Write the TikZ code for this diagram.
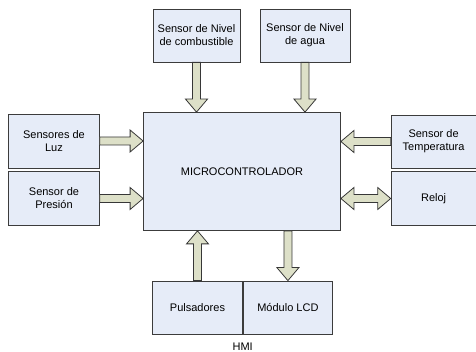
\documentclass[tikz,border=0pt]{standalone}
\usepackage{fontspec}
\setmainfont{Liberation Sans}
\usetikzlibrary{calc}

\definecolor{boxfill}{RGB}{230,236,248}
\definecolor{boxline}{RGB}{60,60,60}
\definecolor{arrowfill}{RGB}{221,224,200}
\definecolor{arrowline}{RGB}{55,55,55}

\tikzset{
  textfont/.style={font=\fontsize{11}{13}\selectfont},
  block/.style={draw=boxline, fill=boxfill, line width=0.8pt, align=center,
    textfont, inner sep=0pt},
  fatarrow/.style={draw=arrowline, fill=arrowfill, line width=0.8pt, line join=miter},
}

% block arrow from #1 to #2 (single head at #2)
\newcommand\blockarrow[2]{%
  \path[fatarrow] let \p1=(#1), \p2=(#2),
    \n1={atan2(\y2-\y1,\x2-\x1)}, \n2={veclen(\x2-\x1,\y2-\y1)} in
    [shift={(\p1)}, rotate=\n1]
    (0pt,-4pt) -- ({(\n2-13)*1pt},-4pt) -- ({(\n2-13)*1pt},-11pt) -- ({\n2*1pt},0pt)
    -- ({(\n2-13)*1pt},11pt) -- ({(\n2-13)*1pt},4pt) -- (0pt,4pt) -- cycle;}

% block arrow with heads at both ends
\newcommand\blockarrowboth[2]{%
  \path[fatarrow] let \p1=(#1), \p2=(#2),
    \n1={atan2(\y2-\y1,\x2-\x1)}, \n2={veclen(\x2-\x1,\y2-\y1)} in
    [shift={(\p1)}, rotate=\n1]
    (0pt,0pt) -- (13pt,-11pt) -- (13pt,-4pt) -- ({(\n2-13)*1pt},-4pt) -- ({(\n2-13)*1pt},-11pt)
    -- ({\n2*1pt},0pt) -- ({(\n2-13)*1pt},11pt) -- ({(\n2-13)*1pt},4pt) -- (13pt,4pt)
    -- (13pt,11pt) -- cycle;}

\begin{document}
\begin{tikzpicture}[x=1pt,y=-1pt]
\useasboundingbox (0,0) rectangle (476,352);

% central unit
\node[block, minimum width=197pt, minimum height=118pt] (mcu) at (242,171.5) {MICROCONTROLADOR};

% sensors above
\node[block, minimum width=87pt, minimum height=53pt] (comb) at (196.5,35.5) {Sensor de Nivel\\de combustible};
\node[block, minimum width=90pt, minimum height=53pt] (agua) at (305,35.5) {Sensor de Nivel\\de agua};

% sensors on the left
\node[block, minimum width=90.5pt, minimum height=54pt] (luz) at (54,141) {Sensores de\\Luz};
\node[block, minimum width=90.5pt, minimum height=53.5pt] (pres) at (54,198.5) {Sensor de\\Presión};

% devices on the right
\node[block, minimum width=88pt, minimum height=53pt, anchor=west] (temp) at (390.7,141.5) {\hspace*{-3pt}Sensor de\\\hspace*{-3pt}Temperatura};
\node[block, minimum width=88pt, minimum height=53.5pt, anchor=west] (reloj) at (390.7,198.5) {\hspace*{-3pt}Reloj};

% HMI panel
\node[block, minimum width=89.6pt, minimum height=53pt] (puls) at (197.5,307.5) {Pulsadores};
\node[block, minimum width=89.6pt, minimum height=53pt, anchor=west] (lcd) at (puls.east) {Módulo LCD};
\node[textfont, inner sep=0pt] (hmi) at ($(puls.south east)+(0,12)$) {HMI};

% connectors
\blockarrow{comb.south}{comb.south |- mcu.north}
\blockarrow{agua.south}{agua.south |- mcu.north}
\blockarrow{luz.east}{luz.east -| mcu.west}
\blockarrow{pres.east}{pres.east -| mcu.west}
\blockarrow{temp.west}{temp.west -| mcu.east}
\blockarrowboth{mcu.east |- reloj.west}{reloj.west}
\blockarrow{puls.north}{puls.north |- mcu.south}
\blockarrow{lcd.north |- mcu.south}{lcd.north}
\end{tikzpicture}
\end{document}
